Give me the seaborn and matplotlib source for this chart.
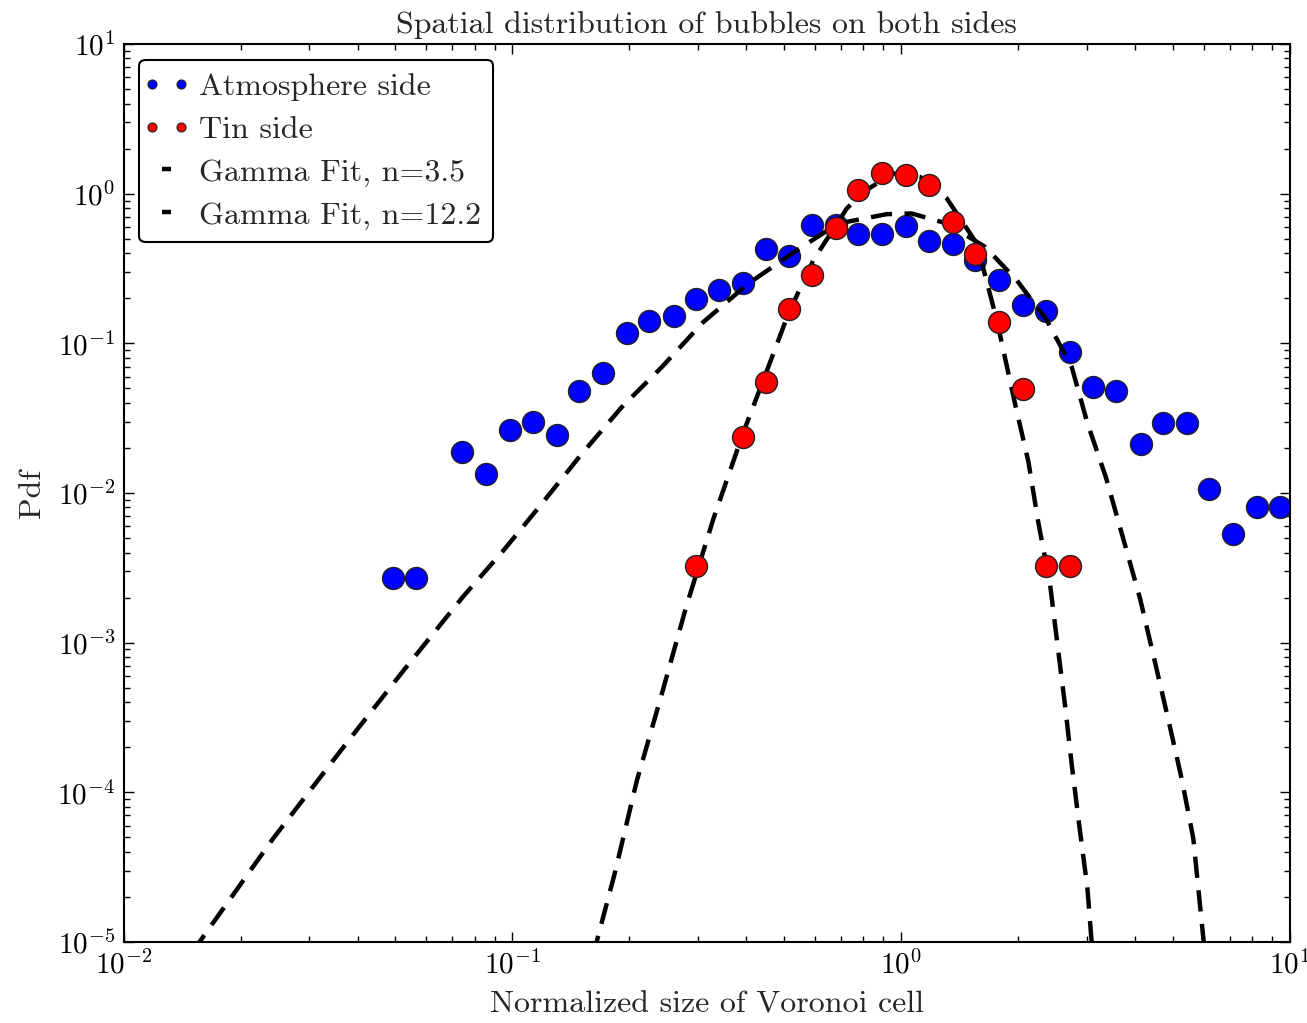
import matplotlib
matplotlib.use("Agg")
import matplotlib.pyplot as plt
import seaborn as sns
from matplotlib.lines import Line2D
from matplotlib.legend_handler import HandlerLine2D

# measured bins (normalized Voronoi cell size) and pdf values
atm_x = [0.0494, 0.0565, 0.0744, 0.0856, 0.0987, 0.1129, 0.130, 0.148, 0.171, 0.197,
         0.225, 0.260, 0.297, 0.341, 0.393, 0.449, 0.516, 0.591, 0.680, 0.776,
         0.893, 1.030, 1.182, 1.357, 1.549, 1.789, 2.062, 2.359, 2.719, 3.111,
         3.570, 4.133, 4.708, 5.429, 6.205, 7.152, 8.216, 9.430]
atm_pdf = [0.00269, 0.00269, 0.01875, 0.01344, 0.0265, 0.0296, 0.0243, 0.048, 0.0633, 0.118,
           0.140, 0.152, 0.197, 0.226, 0.253, 0.425, 0.384, 0.615, 0.62, 0.536,
           0.536, 0.609, 0.483, 0.464, 0.359, 0.264, 0.181, 0.165, 0.0871, 0.0508,
           0.048, 0.0211, 0.0295, 0.0295, 0.01067, 0.00528, 0.00804, 0.00804]

tin_x = [0.297, 0.393, 0.449, 0.516, 0.591, 0.680, 0.776, 0.893, 1.030, 1.182,
         1.357, 1.549, 1.789, 2.062, 2.359, 2.719]
tin_pdf = [0.00327, 0.0235, 0.0551, 0.1706, 0.285, 0.594, 1.055, 1.365, 1.330, 1.140,
           0.648, 0.398, 0.139, 0.0494, 0.00327, 0.00327]

# fitted curves
fit35_x = [0.0150, 0.02428, 0.03786, 0.05297, 0.07468, 0.0948, 0.119, 0.1509, 0.1912, 0.2423,
           0.3099, 0.4046, 0.5389, 0.6896, 0.918, 1.065, 1.310, 1.644, 1.983, 2.369,
           2.746, 3.012, 3.365, 3.728, 4.116, 4.472, 4.866, 5.269, 5.642, 6.05]
fit35_y = [8.5e-6, 4.93e-5, 2.21e-4, 6.71e-4, 2.03e-3, 4.12e-3, 8.47e-3, 0.01829, 0.0375, 0.0694,
           0.1388, 0.2507, 0.4189, 0.632, 0.7294, 0.737, 0.632, 0.4406, 0.2638, 0.1425,
           0.0694, 0.02935, 0.01262, 4.91e-3, 1.963e-3, 7.85e-4, 3.05e-4, 1.22e-4, 4.89e-5, 8e-6]

fit122_x = [0.161, 0.1836, 0.2089, 0.2423, 0.2797, 0.3289, 0.3927, 0.4419, 0.5128, 0.5944,
            0.7246, 0.7995, 0.9547, 1.118, 1.310, 1.565, 1.762, 1.963, 2.124, 2.254,
            2.415, 2.522, 2.639, 2.746, 2.873, 3.012, 3.11]
fit122_y = [8e-6, 2.91e-5, 1.19e-4, 4.54e-4, 1.722e-3, 6.72e-3, 0.0254, 0.0566, 0.158, 0.359,
            0.796, 1.028, 1.365, 1.295, 0.929, 0.4643, 0.1425, 0.0394, 0.0162, 6.30e-3,
            2.45e-3, 9.80e-4, 3.81e-4, 1.525e-4, 5.92e-5, 2.30e-5, 8e-6]

sns.set_style("ticks")
plt.rcParams['font.family'] = ['cmr10', 'DejaVu Serif']
plt.rcParams['mathtext.fontset'] = 'cm'
plt.rcParams['axes.formatter.use_mathtext'] = True
plt.rcParams['axes.unicode_minus'] = False
plt.rcParams['font.size'] = 23

fig = plt.figure(figsize=(13.07, 10.23), dpi=100)
ax = fig.add_axes([0.0945, 0.0792, 0.8925, 0.8778])

dash = (0, (4.8, 2.8))
sns.lineplot(x=fit35_x, y=fit35_y, color='black', lw=3.2, linestyle=dash, ax=ax, zorder=3)
sns.lineplot(x=fit122_x, y=fit122_y, color='black', lw=3.2, linestyle=dash, ax=ax, zorder=3)
sns.scatterplot(x=atm_x, y=atm_pdf, color='#0000ff', s=250, edgecolor='#222222',
                linewidth=1, ax=ax, zorder=2)
sns.scatterplot(x=tin_x, y=tin_pdf, color='#ff0000', s=250, edgecolor='#222222',
                linewidth=1, ax=ax, zorder=4)

ax.set_xscale('log')
ax.set_yscale('log')
ax.set_xlim(1e-2, 1e1)
ax.set_ylim(1e-5, 1e1)

for sp in ax.spines.values():
    sp.set_linewidth(1.5)
    sp.set_color('black')
ax.tick_params(which='both', direction='in', top=True, right=True, width=1, colors='black',
               labelsize=21)
ax.tick_params(which='major', length=7, pad=6)
ax.tick_params(which='minor', length=4)

ax.set_title('Spatial distribution of bubbles on both sides', fontsize=23, pad=8)
ax.set_xlabel('Normalized size of Voronoi cell', fontsize=23, labelpad=8)
ax.set_ylabel('Pdf', fontsize=23, labelpad=8)

h_atm = Line2D([], [], ls='none', marker='o', ms=6.5, mfc='#0000ff', mec='#222222', mew=0.8)
h_tin = Line2D([], [], ls='none', marker='o', ms=6.5, mfc='#ff0000', mec='#222222', mew=0.8)
h_f1 = Line2D([], [], color='black', lw=3.2, linestyle=dash)
h_f2 = Line2D([], [], color='black', lw=3.2, linestyle=dash)
labels = ['Atmosphere side', 'Tin side', 'Gamma Fit, n=3.5', 'Gamma Fit, n=12.2']
dots = HandlerLine2D(marker_pad=0.0)
leg = ax.legend([h_atm, h_tin, h_f1, h_f2], labels, loc='upper left', numpoints=2,
                handlelength=0.9, handletextpad=0.55, labelspacing=0.45, borderpad=0.4,
                fontsize=23, frameon=True, fancybox=True, framealpha=1, edgecolor='black',
                handler_map={h_atm: dots, h_tin: dots})
leg.get_frame().set_linewidth(1.5)

fig.savefig('out.png', dpi=100)
